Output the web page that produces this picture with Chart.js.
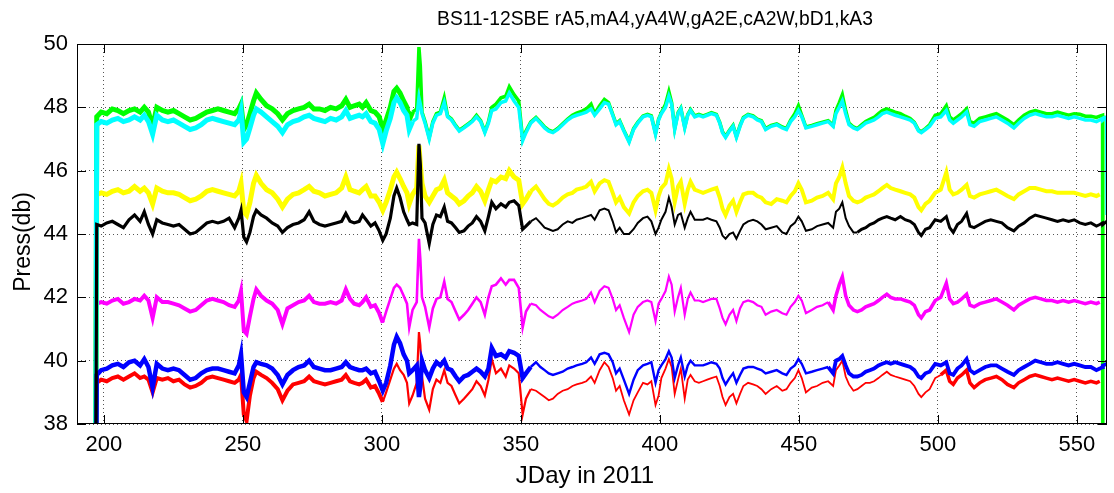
<!DOCTYPE html>
<html>
<head>
<meta charset="utf-8">
<script src="https://cdn.jsdelivr.net/npm/chart.js@4"></script>
<style>
  html, body { margin: 0; padding: 0; background: #fff; }
  #wrap { width: 1114px; height: 493px; }
</style>
</head>
<body>
<div id="wrap"><canvas id="chart" width="1114" height="493"></canvas></div>
<script>
// BS11-12SBE pressure records (db)
const days = [
  196.8, 197.4, 199, 201, 203, 205, 207, 209, 211, 213,
  214.5, 216, 217.5, 219, 221, 223, 225, 227, 229, 231,
  233, 235, 237, 239, 241, 243, 245, 247, 248.5, 249.3,
  250.3, 251.3, 252.5, 253.8, 254.8, 256.5, 258.5, 260.5, 262.5, 264.2,
  266, 268, 270, 272, 273.8, 275.5, 277.5, 279.5, 281.5, 283.5,
  285.5, 287, 288.5, 290, 291.8, 293, 294.3, 296, 297.5, 299,
  300.3, 301.5, 303, 304.3, 305.3, 306.5, 307.8, 309, 309.8, 311,
  312.5, 313.3, 313.8, 314.4, 315.5, 317, 318.3, 319.6, 321, 322.4,
  323.6, 325, 326.5, 327.8, 329.5, 331, 332.5, 334, 335.5, 337,
  338.3, 339.5, 341, 342.8, 344.5, 345.8, 347.5, 349.2, 350.6, 351.8,
  353.5, 355.4, 357, 358.5, 360, 361.5, 363.2, 365, 366.8, 368.5,
  370, 372, 373.5, 375.2, 376.5, 378.3, 380, 381.5, 383, 384.2,
  385.5, 387, 388.9, 390.5, 392, 393.9, 395.5, 396.9, 398.4, 399.5,
  400.5, 402, 403.2, 404.2, 405.3, 406.5, 407.5, 408.9, 410, 411,
  412.5, 414, 415.5, 417, 418.5, 420.3, 421.5, 422.5, 423.6, 425,
  426.3, 427.5, 428.8, 430, 431.7, 433.5, 435, 436.5, 438, 440,
  442, 444, 445.5, 447, 448.5, 449.8, 451, 452.5, 454.6, 456.5,
  458.5, 460.5, 462.3, 463.3, 464.5, 465.6, 466.8, 468, 469.6, 471,
  472.5, 474, 475.5, 477, 478.6, 480, 481.6, 483, 484.6, 486.5,
  488.2, 490, 491.5, 493, 494, 495.5, 497, 499, 501, 503,
  504.2, 505.5, 507, 508.5, 510.3, 511.5, 513, 515, 517, 519,
  521, 523, 525, 527.3, 529, 531, 533, 535, 537, 539,
  541, 543, 545, 547, 549, 551, 553, 555, 557, 558.2,
  559.2, 559.3, 560.7, 560.8
];

const pressA5 = [ // r
  30, 39.3, 39.4, 39.35, 39.45, 39.5, 39.4, 39.5, 39.6, 39.45,
  39.5, 39.4, 39.0, 39.45, 39.4, 39.45, 39.35, 39.4, 39.25, 39.15,
  39.2, 39.3, 39.45, 39.5, 39.45, 39.4, 39.35, 39.3, 39.4, 39.55,
  38.3, 38.1, 38.9, 39.45, 39.65, 39.55, 39.45, 39.3, 39.1, 38.75,
  39.05, 39.25, 39.3, 39.35, 39.5, 39.35, 39.3, 39.25, 39.3, 39.35,
  39.4, 39.55, 39.35, 39.3, 39.25, 39.3, 39.4, 39.15, 39.2, 38.95,
  38.7, 39.0, 39.4, 39.75, 39.9, 39.7, 39.55, 39.3, 38.65, 38.9,
  39.3, 40.9, 40.5, 39.5, 38.8, 38.45, 39.1, 39.4, 39.3, 39.7,
  39.3, 39.2, 38.9, 38.65, 38.8, 38.95, 39.1, 39.35, 39.2, 38.9,
  39.4, 40.05, 39.6, 39.75, 39.5, 39.85, 39.75, 39.6, 38.3, 38.8,
  39.1, 39.05, 38.95, 38.85, 38.75, 38.8, 38.95, 39.05, 39.1, 39.2,
  39.25, 39.3, 39.35, 39.5, 39.3, 39.7, 39.95, 39.8, 39.45, 39.05,
  39.2, 38.75, 38.3, 38.75, 39.0, 39.3, 39.25, 39.35, 38.6, 38.9,
  39.45, 39.75, 40.05, 39.8, 38.95, 39.4, 39.75, 38.8, 39.4, 39.55,
  39.35, 39.3, 39.35, 39.4, 39.45, 39.5, 39.2, 38.85, 38.6, 38.85,
  38.95, 38.65, 38.95, 39.2, 39.3, 39.25, 39.2, 39.1, 38.95, 39.1,
  39.2, 39.05, 39.1, 39.3, 39.45, 39.7, 39.45, 39.0, 39.15, 39.2,
  39.3, 39.35, 39.2, 39.7, 39.85, 40.0, 39.5, 39.25, 39.05, 39.1,
  39.2, 39.3, 39.3, 39.35, 39.45, 39.55, 39.65, 39.55, 39.5, 39.45,
  39.4, 39.35, 39.2, 38.95, 38.85, 39.0, 39.1, 39.45, 39.55, 39.7,
  39.35, 39.25, 39.45, 39.55, 39.7, 39.3, 39.15, 39.3, 39.4, 39.45,
  39.5, 39.4, 39.25, 39.15, 39.3, 39.4, 39.5, 39.55, 39.5, 39.45,
  39.4, 39.45, 39.4, 39.35, 39.4, 39.35, 39.3, 39.35, 39.3, 39.35,
  null, null, null, null
];

const pressA4 = [ // m
  30, 41.8, 41.85, 41.8, 41.9, 41.95, 41.8, 41.85, 41.95, 41.9,
  42.05, 41.9, 41.35, 42.0, 41.85, 41.85, 41.8, 41.75, 41.65, 41.55,
  41.6, 41.75, 41.9, 41.95, 41.9, 41.85, 41.75, 41.7, 41.9, 42.2,
  40.95, 40.85, 41.4, 41.95, 42.25, 42.05, 41.9, 41.8, 41.6, 41.15,
  41.65, 41.75, 41.85, 41.9, 42.05, 41.85, 41.8, 41.8, 41.85, 41.8,
  41.9, 42.25, 41.95, 41.8, 41.75, 41.85, 42.0, 41.7, 41.75, 41.5,
  41.2, 41.55, 41.95, 42.3, 42.4, 42.3, 42.05, 41.8, 41.05, 41.6,
  41.85, 43.85, 43.2, 42.0, 41.7, 41.05, 41.65, 41.95, 42.0, 42.5,
  41.95, 41.85, 41.55, 41.3, 41.45, 41.6, 41.8, 42.0, 41.85, 41.45,
  42.0, 42.35, 42.4, 42.6, 42.4, 42.55, 42.55, 42.3, 41.05, 41.55,
  41.8, 41.75, 41.6, 41.5, 41.4, 41.35, 41.45, 41.6, 41.7, 41.8,
  41.85, 41.9, 41.95, 42.15, 41.85, 42.2, 42.35, 42.3, 41.95, 41.6,
  41.75, 41.35, 40.9, 41.45, 41.7, 41.85, 41.9, 41.85, 41.25, 41.8,
  41.95, 42.2, 42.65, 42.4, 41.55, 42.0, 42.3, 41.45, 41.95, 42.15,
  41.9, 41.9, 41.85, 41.9, 41.95, 41.95, 41.65, 41.35, 41.15, 41.45,
  41.6, 41.25, 41.65, 41.85, 41.9, 41.85, 41.75, 41.7, 41.45, 41.55,
  41.6, 41.5, 41.45, 41.7, 41.85, 42.05, 41.9, 41.5, 41.6, 41.7,
  41.75, 41.85, 41.6, 42.05, 42.4, 42.65, 42.05, 41.75, 41.6, 41.55,
  41.6, 41.7, 41.75, 41.8, 41.9, 42.0, 42.1, 42.0, 41.95, 41.95,
  41.9, 41.85, 41.75, 41.45, 41.35, 41.55, 41.6, 41.9, 42.0, 42.45,
  41.95, 41.8, 41.85, 41.95, 42.1, 41.75, 41.7, 41.8, 41.85, 41.9,
  41.95, 41.85, 41.75, 41.6, 41.75, 41.85, 41.95, 42.0, 41.95, 41.9,
  41.9, 41.85, 41.9, 41.85, 41.9, 41.85, 41.8, 41.85, 41.8, 41.85,
  null, null, null, null
];

const pressA4W = [ // y
  30, 45.25, 45.3, 45.25, 45.35, 45.4, 45.3, 45.35, 45.5, 45.35,
  45.45, 45.3, 44.95, 45.45, 45.35, 45.3, 45.3, 45.25, 45.15, 45.05,
  45.1, 45.2, 45.35, 45.4, 45.35, 45.3, 45.25, 45.2, 45.35, 45.6,
  44.7, 44.6, 45.0, 45.6, 45.85, 45.6, 45.4, 45.3, 45.1, 44.85,
  45.1, 45.25, 45.3, 45.4, 45.5, 45.35, 45.3, 45.2, 45.25, 45.3,
  45.45, 45.8, 45.4, 45.35, 45.3, 45.4, 45.5, 45.2, 45.2, 45.0,
  44.75, 45.0, 45.4, 45.8, 45.95, 45.75, 45.5, 45.3, 44.95, 45.25,
  45.45, 46.8, 46.2, 45.6, 45.2, 45.0, 45.2, 45.4, 45.45, 45.7,
  45.3, 45.2, 45.1, 44.95, 45.05, 45.2, 45.3, 45.5, 45.35, 45.05,
  45.4, 45.7, 45.65, 45.8, 45.75, 46.0, 45.8, 45.7, 44.95, 45.1,
  45.35, 45.5, 45.3, 45.1, 44.95, 44.9, 45.0, 45.15, 45.25, 45.3,
  45.4, 45.45, 45.5, 45.65, 45.35, 45.6, 45.7, 45.65, 45.3, 45.0,
  45.15, 44.85, 44.65, 45.0, 45.2, 45.35, 45.4, 45.3, 44.75, 45.2,
  45.45, 45.6, 46.05, 45.75, 45.0, 45.5, 45.65, 44.95, 45.4, 45.65,
  45.4, 45.35, 45.3, 45.35, 45.4, 45.45, 45.15, 44.8, 44.6, 44.9,
  45.05, 44.7, 45.0, 45.25, 45.3, 45.3, 45.2, 45.15, 45.0, 44.95,
  45.1, 45.05, 45.0, 45.2, 45.35, 45.6, 45.4, 45.0, 45.05, 45.15,
  45.2, 45.3, 45.1, 45.6, 45.8, 46.1, 45.6, 45.2, 45.05, 45.0,
  45.05, 45.15, 45.2, 45.25, 45.35, 45.45, 45.55, 45.45, 45.4, 45.35,
  45.3, 45.25, 45.15, 44.85, 44.75, 44.95, 45.05, 45.3, 45.4, 45.95,
  45.4, 45.25, 45.3, 45.4, 45.55, 45.2, 45.15, 45.25, 45.3, 45.35,
  45.4, 45.3, 45.2, 45.1, 45.25, 45.35, 45.45, 45.45, 45.4, 45.35,
  45.35, 45.3, 45.3, 45.3, 45.3, 45.25, 45.2, 45.25, 45.2, 45.25,
  null, null, null, null
];

const pressA2E = [ // g
  30, 47.7, 47.85, 47.8, 47.95, 47.9, 47.8, 47.9, 47.95, 47.85,
  48.0, 47.85, 47.4, 48.0, 47.9, 47.85, 47.9, 47.8, 47.7, 47.6,
  47.65, 47.75, 47.85, 47.9, 47.95, 47.9, 47.85, 47.8, 47.95, 48.1,
  47.3, 47.45, 47.8, 48.2, 48.45, 48.25, 48.05, 47.95, 47.8, 47.6,
  47.8, 47.9, 47.95, 48.0, 48.1, 47.95, 47.95, 47.9, 48.0, 47.95,
  48.05, 48.25, 48.0, 48.05, 48.1, 48.0, 48.15, 47.9, 47.85, 47.7,
  47.3, 47.6, 48.0, 48.5, 48.6, 48.45, 48.2, 48.0, 47.6, 47.85,
  47.95, 49.9, 49.3, 47.85, 47.55, 47.05, 47.55, 47.8, 47.85, 48.3,
  47.73, 47.63, 47.43, 47.28, 47.38, 47.48, 47.58, 47.75, 47.58, 47.23,
  47.55, 48.0, 48.1, 48.3, 48.35, 48.65, 48.4, 48.2, 47.0, 47.25,
  47.53, 47.68, 47.53, 47.38, 47.28, 47.23, 47.33, 47.48, 47.63, 47.75,
  47.82, 47.88, 47.95, 48.1, 47.8, 48.05, 48.25, 48.15, 47.78, 47.48,
  47.58, 47.28, 46.93, 47.33, 47.53, 47.73, 47.78, 47.73, 47.18, 47.63,
  47.83, 48.1, 48.5, 48.15, 47.33, 47.83, 47.98, 47.38, 47.78, 47.93,
  47.73, 47.78, 47.73, 47.78, 47.83, 47.78, 47.53, 47.23, 47.08, 47.28,
  47.43, 47.08, 47.43, 47.68, 47.78, 47.73, 47.63, 47.58, 47.33, 47.43,
  47.48, 47.38, 47.33, 47.6, 47.8, 48.05, 47.75, 47.38, 47.43, 47.48,
  47.53, 47.58, 47.43, 47.9, 48.15, 48.4, 47.9, 47.5, 47.38, 47.33,
  47.45, 47.55, 47.62, 47.68, 47.8, 47.9, 47.95, 47.9, 47.85, 47.8,
  47.72, 47.65, 47.53, 47.28, 47.23, 47.33, 47.45, 47.75, 47.8, 48.05,
  47.7, 47.6, 47.7, 47.8, 47.95, 47.55, 47.5, 47.65, 47.7, 47.75,
  47.8, 47.7, 47.6, 47.45, 47.6, 47.75, 47.85, 47.9, 47.85, 47.8,
  47.8, 47.85, 47.8, 47.75, 47.8, 47.78, 47.72, 47.72, 47.68, 47.72,
  47.75, 30, null, null
];

const pressA2W = [ // c
  30, 47.45, 47.55, 47.5, 47.6, 47.65, 47.55, 47.6, 47.7, 47.6,
  47.75, 47.55, 47.15, 47.75, 47.6, 47.55, 47.6, 47.5, 47.4, 47.3,
  47.35, 47.45, 47.6, 47.65, 47.6, 47.55, 47.5, 47.45, 47.6, 47.9,
  46.9, 47.0, 47.35, 47.75, 47.95, 47.85, 47.7, 47.55, 47.4, 47.2,
  47.45, 47.55, 47.6, 47.7, 47.75, 47.65, 47.6, 47.55, 47.65, 47.6,
  47.7, 47.9, 47.65, 47.7, 47.75, 47.7, 47.8, 47.55, 47.5, 47.3,
  46.85, 47.25, 47.65, 48.15, 48.3, 48.15, 47.9, 47.75, 47.3, 47.55,
  47.65, 48.3, 48.1, 47.8, 47.5, 47.0, 47.5, 47.75, 47.8, 48.15,
  47.7, 47.6, 47.4, 47.25, 47.35, 47.45, 47.55, 47.7, 47.55, 47.2,
  47.5, 47.9, 47.95, 48.15, 48.2, 48.45, 48.2, 48.0, 46.95, 47.2,
  47.5, 47.65, 47.5, 47.35, 47.25, 47.2, 47.3, 47.45, 47.6, 47.7,
  47.75, 47.8, 47.85, 47.95, 47.75, 47.95, 48.15, 48.1, 47.75, 47.45,
  47.55, 47.25, 46.9, 47.3, 47.5, 47.7, 47.75, 47.7, 47.15, 47.6,
  47.8, 48.0, 48.35, 48.1, 47.3, 47.8, 47.95, 47.35, 47.75, 47.9,
  47.7, 47.75, 47.7, 47.75, 47.8, 47.75, 47.5, 47.2, 47.05, 47.25,
  47.4, 47.05, 47.4, 47.65, 47.75, 47.7, 47.6, 47.55, 47.3, 47.4,
  47.45, 47.35, 47.3, 47.55, 47.7, 47.9, 47.7, 47.35, 47.4, 47.45,
  47.5, 47.55, 47.4, 47.8, 48.0, 48.2, 47.8, 47.45, 47.35, 47.3,
  47.4, 47.5, 47.55, 47.6, 47.7, 47.8, 47.85, 47.8, 47.75, 47.7,
  47.65, 47.6, 47.5, 47.25, 47.2, 47.3, 47.4, 47.65, 47.7, 47.9,
  47.6, 47.5, 47.6, 47.7, 47.85, 47.45, 47.4, 47.55, 47.6, 47.65,
  47.7, 47.6, 47.5, 47.35, 47.5, 47.65, 47.75, 47.8, 47.75, 47.7,
  47.7, 47.75, 47.7, 47.65, 47.7, 47.65, 47.6, 47.6, 47.55, 47.6,
  47.65, 47.6, 47.7, 44.6
];

const pressD1 = [ // b
  30, 39.55, 39.7, 39.75, 39.85, 39.9, 39.8, 39.95, 40.0, 39.85,
  40.05, 39.8, 39.15, 39.9, 39.75, 39.7, 39.75, 39.7, 39.55, 39.4,
  39.45, 39.6, 39.7, 39.75, 39.75, 39.7, 39.65, 39.6, 39.85, 40.2,
  39.0, 38.85, 39.3, 39.8, 39.95, 39.9, 39.85, 39.75, 39.55, 39.25,
  39.55, 39.7, 39.8, 39.85, 40.0, 39.8, 39.75, 39.7, 39.7, 39.75,
  39.8, 39.95, 39.8, 39.75, 39.7, 39.7, 39.75, 39.6, 39.65, 39.35,
  39.05, 39.3, 39.85, 40.5, 40.75, 40.55, 40.2, 40.0, 39.6, 39.7,
  39.85, 38.85, 39.2, 40.0, 39.7, 39.45, 39.75, 39.95, 39.85, 40.0,
  39.75, 39.7, 39.5, 39.35, 39.5, 39.55, 39.65, 39.75, 39.65, 39.5,
  39.75, 40.4, 40.15, 40.2, 40.1, 40.3, 40.25, 40.15, 39.45, 39.6,
  39.8, 39.95, 39.8, 39.7, 39.6, 39.55, 39.6, 39.65, 39.75, 39.8,
  39.85, 39.9, 39.95, 40.1, 39.9, 40.2, 40.25, 40.2, 39.95, 39.6,
  39.75, 39.4, 38.95, 39.4, 39.7, 39.85, 39.9, 39.95, 39.3, 39.7,
  39.85, 40.05, 40.3, 40.1, 39.45, 39.85, 40.1, 39.5, 39.85, 40.0,
  39.85, 39.85, 39.85, 39.9, 39.95, 39.9, 39.75, 39.45, 39.25, 39.45,
  39.6, 39.3, 39.55, 39.75, 39.8, 39.8, 39.75, 39.7, 39.6, 39.65,
  39.7, 39.6, 39.55, 39.75, 39.85, 40.05, 39.9, 39.6, 39.65, 39.7,
  39.75, 39.8, 39.6, 40.0, 40.05, 40.15, 39.85, 39.6, 39.5, 39.5,
  39.55, 39.65, 39.7, 39.75, 39.85, 39.9, 39.95, 39.9, 39.95, 39.9,
  39.85, 39.8, 39.7, 39.5, 39.45, 39.6, 39.65, 39.9, 39.85, 39.95,
  39.6, 39.55, 39.75, 39.85, 40.05, 39.7, 39.6, 39.7, 39.8, 39.85,
  39.85, 39.75, 39.65, 39.55, 39.7, 39.8, 39.9, 40.0, 39.95, 39.9,
  39.9, 39.95, 39.9, 39.85, 39.9, 39.85, 39.8, 39.8, 39.7, 39.75,
  39.8, 39.85, 39.9, 39.85
];

const pressA3 = [ // k
  30, 44.3, 44.25, 44.35, 44.4, 44.3, 44.2, 44.45, 44.6, 44.4,
  44.7, 44.3, 44.0, 44.45, 44.35, 44.3, 44.25, 44.3, 44.15, 44.0,
  44.05, 44.2, 44.35, 44.4, 44.35, 44.4, 44.5, 44.2, 44.5, 44.75,
  43.9, 43.75, 44.05, 44.55, 44.75, 44.6, 44.5, 44.35, 44.25, 44.05,
  44.2, 44.3, 44.35, 44.45, 44.7, 44.4, 44.3, 44.25, 44.3, 44.35,
  44.4, 44.65, 44.4, 44.35, 44.4, 44.6, 44.45, 44.25, 44.35, 44.1,
  43.8, 44.0, 44.5, 45.2, 45.45, 45.15, 44.7, 44.45, 44.3, 44.35,
  44.3, 46.85, 46.2, 44.5, 44.35, 43.7, 44.3, 44.6, 44.55, 44.85,
  44.4, 44.35, 44.2, 44.05, 44.1, 44.25, 44.35, 44.55, 44.4, 44.1,
  44.55, 45.0, 44.8, 44.95, 44.85, 45.0, 45.05, 44.9, 44.15, 44.25,
  44.4, 44.5, 44.35, 44.2, 44.15, 44.1, 44.15, 44.3, 44.4, 44.35,
  44.45, 44.5, 44.55, 44.6, 44.45, 44.75, 44.8, 44.75, 44.4, 44.05,
  44.2, 44.0, 44.0, 44.15, 44.35, 44.5, 44.55, 44.4, 44.0, 44.2,
  44.45, 44.7, 45.15, 44.85, 44.3, 44.6, 44.65, 44.2, 44.5, 44.7,
  44.45, 44.45, 44.45, 44.5, 44.45, 44.4, 44.2, 43.95, 43.85, 44.0,
  44.05, 43.85, 44.1, 44.3, 44.4, 44.45, 44.4, 44.3, 44.15, 44.2,
  44.25, 44.05, 44.0, 44.25, 44.35, 44.55, 44.4, 44.1, 44.15, 44.25,
  44.3, 44.35, 44.2, 44.7, 44.8, 45.0, 44.5, 44.25, 44.05, 44.05,
  44.15, 44.2, 44.3, 44.35, 44.45, 44.5, 44.55, 44.5, 44.45, 44.55,
  44.45, 44.4, 44.3, 44.05, 43.95, 44.15, 44.2, 44.45, 44.4, 44.55,
  44.2, 44.05, 44.3, 44.4, 44.65, 44.25, 44.2, 44.3, 44.4, 44.45,
  44.4, 44.35, 44.2, 44.1, 44.25, 44.35, 44.5, 44.6, 44.55, 44.5,
  44.45, 44.4, 44.45, 44.4, 44.45, 44.35, 44.3, 44.35, 44.25, 44.3,
  44.35, 44.3, 44.4, 44.35
];

const xTicks = [200, 250, 300, 350, 400, 450, 500, 550];
const yTicks = [38, 40, 42, 44, 46, 48, 50];

const FONT = '"Liberation Sans", Arial, Helvetica, sans-serif';

function series(vals) {
  return days.map((d, i) => ({ x: d, y: vals[i] }));
}

// line thickness by stretch of days, to mimic the noise band in the original
function bandWidth(stops) {
  return ctx => {
    const x = ctx.p0.parsed.x;
    for (const [until, w] of stops) if (x < until) return w;
    return stops[stops.length - 1][1];
  };
}

// frame, inward ticks and the text labels, MATLAB style
const matlabFrame = {
  id: 'matlabFrame',
  afterDraw(chart) {
    const { ctx, chartArea: a, scales } = chart;
    ctx.save();
    ctx.strokeStyle = '#000';
    ctx.lineWidth = 1;
    ctx.strokeRect(a.left + 0.5, a.top + 0.5, a.right - a.left - 1, a.bottom - a.top - 1);
    ctx.beginPath();
    xTicks.forEach(v => {
      const x = Math.round(scales.x.getPixelForValue(v)) + 0.5;
      ctx.moveTo(x, a.bottom); ctx.lineTo(x, a.bottom - 9);
      ctx.moveTo(x, a.top); ctx.lineTo(x, a.top + 9);
    });
    yTicks.forEach(v => {
      const y = Math.round(scales.y.getPixelForValue(v)) + 0.5;
      ctx.moveTo(a.left, y); ctx.lineTo(a.left + 9, y);
      ctx.moveTo(a.right, y); ctx.lineTo(a.right - 9, y);
    });
    ctx.stroke();

    ctx.fillStyle = '#000';
    ctx.textAlign = 'center';
    ctx.textBaseline = 'alphabetic';
    ctx.font = '19.3px ' + FONT;
    ctx.fillText('BS11-12SBE rA5,mA4,yA4W,gA2E,cA2W,bD1,kA3', 655, 25);
    ctx.font = '24px ' + FONT;
    ctx.fillText('JDay in 2011', 585, 483);
    ctx.font = '23px ' + FONT;
    ctx.translate(30, 242);
    ctx.rotate(-Math.PI / 2);
    ctx.fillText('Press(db)', 0, 0);
    ctx.restore();
  }
};

const line = (label, vals, color, order, stops) => ({
  label,
  data: series(vals),
  borderColor: color,
  backgroundColor: color,
  borderWidth: stops[0][1],
  segment: { borderWidth: bandWidth(stops) },
  pointRadius: 0,
  tension: 0,
  spanGaps: false,
  order
});

new Chart(document.getElementById('chart'), {
  type: 'line',
  data: {
    datasets: [
      line('rA5', pressA5, '#ff0000', 6, [[300, 4], [352, 2.2], [500, 1.8], [600, 3.5]]),
      line('mA4', pressA4, '#ff00ff', 5, [[300, 4], [352, 2.6], [460, 2.2], [600, 3.5]]),
      line('yA4W', pressA4W, '#ffff00', 4, [[352, 5], [600, 4]]),
      line('gA2E', pressA2E, '#00ff00', 3, [[310, 5], [600, 3.5]]),
      line('cA2W', pressA2W, '#00ffff', 2, [[310, 5], [600, 3.5]]),
      line('bD1', pressD1, '#0000ff', 1, [[352, 4.5], [460, 2.4], [600, 3.8]]),
      line('kA3', pressA3, '#000000', 0, [[352, 3.2], [470, 2], [600, 3]])
    ]
  },
  options: {
    responsive: false,
    animation: false,
    layout: { padding: { top: 44, right: 7, left: 0, bottom: 0 } },
    plugins: {
      legend: { display: false },
      tooltip: { enabled: false },
      title: { display: false }
    },
    scales: {
      x: {
        type: 'linear',
        min: 190.3,
        max: 560.8,
        afterBuildTicks: axis => { axis.ticks = xTicks.map(v => ({ value: v })); },
        afterFit: axis => { axis.height = 69; },
        ticks: { color: '#000', font: { family: FONT, size: 22 }, padding: 8, maxRotation: 0, autoSkip: false },
        grid: { color: '#555', lineWidth: 1, drawTicks: false },
        border: { display: false, dash: [1, 3] }
      },
      y: {
        min: 38,
        max: 50,
        afterBuildTicks: axis => { axis.ticks = yTicks.map(v => ({ value: v })); },
        afterFit: axis => { axis.width = 77; },
        ticks: { color: '#000', font: { family: FONT, size: 22 }, padding: 9 },
        grid: { color: '#555', lineWidth: 1, drawTicks: false },
        border: { display: false, dash: [1, 3] }
      }
    }
  },
  plugins: [matlabFrame]
});
</script>
</body>
</html>
